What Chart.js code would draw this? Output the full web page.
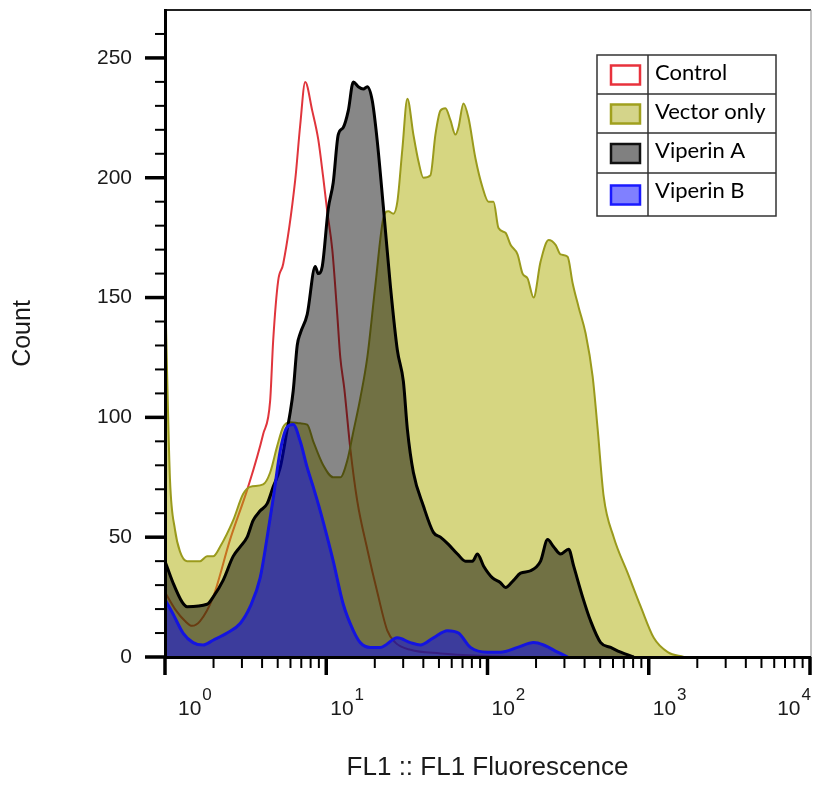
<!DOCTYPE html>
<html>
<head>
<meta charset="utf-8">
<script src="https://cdn.jsdelivr.net/npm/chart.js@4.4.1/dist/chart.umd.min.js"></script>
<style>
  html, body { margin: 0; padding: 0; background: #fff; }
</style>
</head>
<body>
<canvas id="histo" width="813" height="785"></canvas>
<script>
// DATA (FL1 values on a log axis, counts per channel)
const controlFL1 = [1.000, 1.154, 1.331, 1.471, 1.650, 1.987, 2.533, 3.277, 4.061, 4.489, 4.686, 5.032, 5.406, 6.418, 6.895, 7.405, 8.185, 8.920, 9.580, 10.14, 10.90, 11.70, 12.22, 12.94, 14.10, 15.58, 17.97, 20.74, 23.92, 26.83, 33.24, 51.06, 90.5, 160.3];
const controlCount = [27, 20, 15, 13, 15, 25, 49, 71, 93, 107, 132, 157, 164, 199, 222, 240, 228, 216, 200, 186, 170, 143, 125, 112, 87, 65, 45, 27, 11, 6, 3, 1.5, 0.5, 0];

const vectorFL1 = [1.000, 1.029, 1.074, 1.154, 1.239, 1.370, 1.650, 1.823, 1.987, 2.196, 2.646, 3.051, 3.373, 4.061, 4.489, 4.962, 5.406, 5.975, 6.895, 7.621, 8.304, 9.580, 11.05, 12.22, 13.50, 14.72, 16.26, 17.97, 20.15, 22.59, 24.28, 26.08, 27.61, 29.65, 31.85, 34.71, 37.27, 40.05, 44.25, 47.53, 51.06, 54.83, 58.91, 63.26, 66.06, 70.95, 76.21, 84.23, 93.09, 101.4, 109.0, 117.0, 129.3, 139.0, 153.6, 165.0, 177.2, 193.1, 213.4, 239.3, 264.5, 284.0, 314.0, 337.3, 367.4, 406.1, 448.9, 482.3, 525.4, 606.2, 740.5, 891.8, 1074, 1312, 1650];
const vectorCount = [157, 120, 74, 53, 44, 40, 40, 42, 42, 46, 57, 68, 71, 72, 77, 88, 96, 98, 97.5, 97, 90, 80, 75, 75, 82, 94, 108, 125, 155, 183, 186, 185, 190, 212, 233, 218, 207, 200, 201, 218, 228, 229, 224, 218, 221, 231, 225, 208, 196, 190, 190, 179, 177, 172, 168, 160, 158, 150, 165, 174, 172, 168, 167, 156, 146, 135, 117, 95, 67, 50, 35, 21, 8, 2, 0];

const viperinAFL1 = [1.000, 1.121, 1.275, 1.370, 1.823, 1.987, 2.292, 2.646, 2.924, 3.231, 3.521, 3.891, 4.300, 4.686, 5.179, 5.725, 5.975, 6.237, 6.605, 6.895, 7.621, 8.546, 8.920, 9.445, 10.29, 11.05, 11.87, 12.75, 13.70, 14.72, 15.80, 16.98, 17.97, 19.31, 20.74, 22.59, 24.98, 27.61, 30.08, 31.85, 34.71, 40.05, 46.19, 51.06, 57.25, 65.12, 73.02, 80.70, 86.67, 94.46, 107.4, 120.4, 129.3, 145.0, 160.3, 185.0, 213.4, 235.9, 257.0, 284.0, 318.5, 342.1, 389.1, 436.3, 503.4, 580.8, 670.1, 807.0];
const viperinACount = [40, 31, 23, 21, 22, 25, 32, 42, 46, 50, 57, 61, 64, 71, 79, 95, 102, 111, 130, 135, 143, 163, 160, 163, 187, 198, 218, 221, 228, 240, 238, 237, 238, 232, 215, 188, 155, 128, 115, 95, 77, 63, 52, 50, 47, 43, 40, 40, 43, 38, 33, 31, 29, 32, 35, 36, 40, 49, 46, 43, 45, 38, 25, 15, 6, 4, 2, 0];

const viperinBFL1 = [1.000, 1.121, 1.294, 1.493, 1.722, 1.987, 2.427, 2.924, 3.373, 3.891, 4.300, 4.686, 5.179, 5.725, 6.237, 6.895, 7.621, 8.304, 9.177, 10.14, 11.05, 12.75, 14.72, 16.26, 18.76, 21.64, 27.61, 33.24, 38.36, 46.19, 56.43, 66.06, 78.41, 100.0, 120.4, 153.6, 193.1, 222.8, 272.2, 314.0];
const viperinBCount = [24, 18, 10, 6, 5, 7, 10, 14, 21, 33, 50, 66, 86, 96, 97, 90, 79, 71, 61, 50, 40, 22, 11, 6, 4, 4, 8, 6, 5, 8, 11, 10, 4, 2, 2, 4, 6, 5, 2, 0];

const countTicks = [0, 50, 100, 150, 200, 250];
const decadeExps = [0, 1, 2, 3, 4];

function pts(xs, ys) {
    return xs.map(function (v, i) { return { x: v, y: ys[i] }; });
}

// frame, tick marks and 10^n labels
const axisDecor = {
    id: 'axisDecor',
    afterDatasetsDraw(chart) {
        const ctx = chart.ctx;
        const a = chart.chartArea;
        const x = chart.scales.x, y = chart.scales.y;
        ctx.save();
        ctx.strokeStyle = '#222';
        ctx.lineWidth = 2;
        ctx.beginPath(); ctx.moveTo(a.left, a.top); ctx.lineTo(a.right + 1, a.top); ctx.stroke();
        ctx.strokeStyle = '#999';
        ctx.lineWidth = 1.2;
        ctx.beginPath(); ctx.moveTo(a.right + 1, a.top); ctx.lineTo(a.right + 1, a.bottom); ctx.stroke();

        ctx.strokeStyle = '#000';
        for (let v = 0; v <= 260; v += 10) {
            const py = y.getPixelForValue(v);
            const major = countTicks.indexOf(v) >= 0;
            ctx.lineWidth = major ? 3.5 : 2;
            ctx.beginPath(); ctx.moveTo(a.left - (major ? 20 : 10), py); ctx.lineTo(a.left, py); ctx.stroke();
        }
        decadeExps.forEach(function (e) {
            const last = e === decadeExps[decadeExps.length - 1];
            for (let m = 1; m <= (last ? 1 : 9); m++) {
                const px = x.getPixelForValue(m * Math.pow(10, e));
                ctx.lineWidth = m === 1 ? 3.5 : 2;
                ctx.beginPath(); ctx.moveTo(px, a.bottom); ctx.lineTo(px, a.bottom + (m === 1 ? 18 : 11)); ctx.stroke();
            }
        });

        ctx.fillStyle = '#1a1a1a';
        ctx.textAlign = 'left';
        ctx.textBaseline = 'alphabetic';
        decadeExps.forEach(function (e) {
            const px = x.getPixelForValue(Math.pow(10, e));
            ctx.font = '21px "Liberation Sans"';
            const wBase = ctx.measureText('10').width;
            ctx.font = '17px "Liberation Sans"';
            const wSup = ctx.measureText(String(e)).width;
            let sx = Math.max(px + 4, a.left + 13);
            sx = Math.min(sx, a.right - wBase - wSup);
            ctx.font = '21px "Liberation Sans"';
            ctx.fillText('10', sx, 715);
            ctx.font = '17px "Liberation Sans"';
            ctx.fillText(String(e), sx + wBase + 1, 700);
        });
        ctx.restore();
    }
};

// boxed legend table
const tableLegend = {
    id: 'tableLegend',
    afterDraw(chart) {
        const ctx = chart.ctx;
        const rows = [55, 94, 133, 173, 216];
        const left = 597, mid = 648, right = 776;
        ctx.save();
        ctx.fillStyle = '#fff';
        ctx.fillRect(left, rows[0], right - left, rows[rows.length - 1] - rows[0]);
        chart.data.datasets.forEach(function (ds, i) {
            const top = rows[i], bot = rows[i + 1];
            const cy = (top + bot) / 2 + 1;
            ctx.fillStyle = ds.swatchFill;
            ctx.fillRect(611, cy - 10, 29, 19);
            ctx.strokeStyle = ds.swatchStroke;
            ctx.lineWidth = 2.5;
            ctx.strokeRect(611, cy - 10, 29, 19);
            ctx.fillStyle = '#000';
            ctx.font = '22px Lato';
            ctx.textAlign = 'left';
            ctx.textBaseline = 'alphabetic';
            ctx.fillText(ds.label, 655, top + 25);
        });
        ctx.strokeStyle = '#333';
        ctx.lineWidth = 1.5;
        ctx.strokeRect(left, rows[0], right - left, rows[rows.length - 1] - rows[0]);
        ctx.beginPath();
        ctx.moveTo(mid, rows[0]); ctx.lineTo(mid, rows[rows.length - 1]);
        for (let i = 1; i < rows.length - 1; i++) { ctx.moveTo(left, rows[i]); ctx.lineTo(right, rows[i]); }
        ctx.stroke();
        ctx.restore();
    }
};

const tickFont = { family: 'Liberation Sans', size: 21 };

new Chart(document.getElementById('histo'), {
    type: 'line',
    data: {
        datasets: [
            { label: 'Control', data: pts(controlFL1, controlCount), order: 4,
              borderColor: '#e0353c', borderWidth: 2, backgroundColor: 'rgba(0,0,0,0)', fill: false,
              swatchFill: '#fff', swatchStroke: '#e8323c' },
            { label: 'Vector only', data: pts(vectorFL1, vectorCount), order: 3,
              borderColor: '#9a9a1c', borderWidth: 2, backgroundColor: 'rgba(173,173,3,0.5)', fill: 'origin',
              swatchFill: '#d4d48a', swatchStroke: '#a0a01e' },
            { label: 'Viperin A', data: pts(viperinAFL1, viperinACount), order: 2,
              borderColor: '#000', borderWidth: 3, backgroundColor: 'rgba(0,0,0,0.47)', fill: 'origin',
              swatchFill: '#808080', swatchStroke: '#111' },
            { label: 'Viperin B', data: pts(viperinBFL1, viperinBCount), order: 1,
              borderColor: '#1414e0', borderWidth: 3, backgroundColor: 'rgba(0,0,255,0.47)', fill: 'origin',
              swatchFill: '#8080ff', swatchStroke: '#1a1aff' }
        ]
    },
    options: {
        responsive: false,
        animation: false,
        devicePixelRatio: 1,
        layout: { autoPadding: false, padding: { left: 8, top: 10, right: 3, bottom: 0 } },
        plugins: { legend: { display: false }, tooltip: { enabled: false } },
        elements: { point: { radius: 0 }, line: { cubicInterpolationMode: 'monotone' } },
        scales: {
            x: {
                type: 'logarithmic', min: 1, max: 10000, position: 'bottom',
                ticks: { display: false },
                grid: { display: false, drawTicks: false },
                border: { display: true, color: '#000', width: 3, z: 1 },
                title: { display: true, text: 'FL1 :: FL1 Fluorescence', color: '#1a1a1a',
                         font: { family: 'Liberation Sans', size: 26 }, padding: { top: 0, bottom: 2 } },
                afterFit: function (s) {
                    s.height = 128;
                    s.paddingLeft = 0; s.paddingRight = 0;
                }
            },
            y: {
                min: 0, max: 270, position: 'left',
                ticks: { stepSize: 50, includeBounds: false, padding: 33, color: '#1a1a1a', font: tickFont },
                grid: { display: false, drawTicks: false },
                border: { display: true, color: '#000', width: 3, z: 1 },
                title: { display: true, text: 'Count', color: '#1a1a1a',
                         font: { family: 'Liberation Sans', size: 25 }, padding: 0 },
                afterFit: function (s) {
                    s.width = 157;
                    s.paddingTop = 0; s.paddingBottom = 0;
                }
            }
        }
    },
    plugins: [axisDecor, tableLegend]
});
</script>
</body>
</html>
